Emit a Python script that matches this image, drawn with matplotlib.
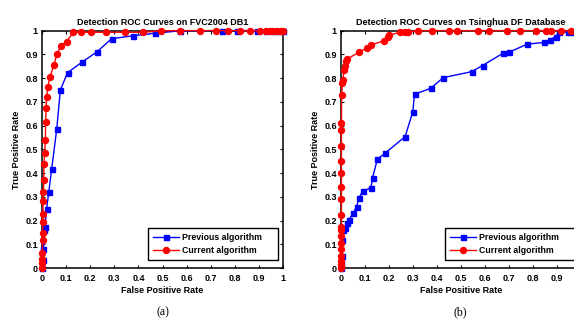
import matplotlib
matplotlib.use("Agg")
import matplotlib.pyplot as plt
import numpy as np

# --- data -------------------------------------------------------------------
# (a) FVC2004 DB1
fvc_prev_fpr = [0, 0.003, 0.006, 0.010, 0.012, 0.019, 0.028, 0.040, 0.061, 0.076, 0.106,
                0.167, 0.227, 0.289, 0.378, 0.468, 0.572, 0.746, 0.810, 0.890, 0.930,
                0.960, 0.980, 1.0]
fvc_prev_tpr = [0, 0.035, 0.08, 0.16, 0.175, 0.25, 0.32, 0.417, 0.585, 0.75, 0.823,
                0.868, 0.91, 0.966, 0.978, 0.989, 0.999, 1.0, 1.0, 1.0, 1.0,
                1.0, 1.0, 1.0]
fvc_cur_fpr = [0, 0.001, 0.001, 0.001, 0.003, 0.003, 0.003, 0.004, 0.004, 0.006, 0.007,
               0.008, 0.011, 0.014, 0.015, 0.017, 0.019, 0.024, 0.033, 0.050, 0.061,
               0.080, 0.102, 0.130, 0.160, 0.205, 0.265, 0.344, 0.420, 0.493, 0.572,
               0.655, 0.720, 0.770, 0.820, 0.862, 0.903, 0.930, 0.945, 0.960, 0.975,
               0.990, 1.0]
fvc_cur_tpr = [0, 0.02, 0.04, 0.065, 0.12, 0.15, 0.196, 0.23, 0.283, 0.32, 0.37,
               0.44, 0.484, 0.54, 0.617, 0.673, 0.72, 0.762, 0.806, 0.855, 0.9,
               0.937, 0.954, 0.993, 0.993, 0.993, 0.993, 0.993, 0.993, 0.999, 1.0,
               1.0, 1.0, 1.0, 1.0, 1.0, 1.0, 1.0, 1.0, 1.0, 1.0,
               1.0, 1.0]

# (b) Tsinghua DF database
thu_prev_fpr = [0, 0.002, 0.003, 0.005, 0.010, 0.017, 0.026, 0.032, 0.051, 0.065, 0.076,
                0.090, 0.125, 0.132, 0.152, 0.184, 0.268, 0.300, 0.307, 0.374, 0.427,
                0.545, 0.591, 0.677, 0.702, 0.777, 0.847, 0.872, 0.896, 0.911, 0.949,
                0.969]
thu_prev_tpr = [0, 0.02, 0.05, 0.12, 0.16, 0.171, 0.192, 0.203, 0.231, 0.259, 0.297,
                0.323, 0.339, 0.381, 0.459, 0.484, 0.554, 0.659, 0.732, 0.757, 0.802,
                0.827, 0.853, 0.905, 0.909, 0.943, 0.950, 0.961, 0.975, 0.993, 0.993,
                0.993]
thu_cur_fpr = [0, 0, 0, 0, 0, 0, 0, 0.001, 0.002, 0.002, 0.002,
               0.002, 0.002, 0.002, 0.002, 0.002, 0.002, 0.003, 0.006, 0.008, 0.013,
               0.017, 0.021, 0.026, 0.075, 0.107, 0.125, 0.180, 0.195, 0.200, 0.246,
               0.267, 0.281, 0.323, 0.382, 0.452, 0.485, 0.570, 0.619, 0.691, 0.747,
               0.812, 0.855, 0.876, 0.920, 0.960, 0.990]
thu_cur_tpr = [0, 0.015, 0.03, 0.05, 0.08, 0.105, 0.135, 0.16, 0.175, 0.225, 0.29,
               0.34, 0.40, 0.45, 0.515, 0.58, 0.61, 0.73, 0.78, 0.79, 0.835,
               0.852, 0.872, 0.88, 0.909, 0.926, 0.94, 0.957, 0.975, 0.98, 0.993,
               0.993, 0.993, 1.0, 1.0, 1.0, 1.0, 1.0, 1.0, 1.0, 1.0,
               1.0, 1.0, 1.0, 1.0, 1.0, 1.0]

tick_values = [0, 0.1, 0.2, 0.3, 0.4, 0.5, 0.6, 0.7, 0.8, 0.9, 1]
tick_labels = ["0", "0.1", "0.2", "0.3", "0.4", "0.5", "0.6", "0.7", "0.8", "0.9", "1"]

panels = [
    ("Detection ROC Curves on FVC2004 DB1", "(a)",
     fvc_prev_fpr, fvc_prev_tpr, fvc_cur_fpr, fvc_cur_tpr),
    ("Detection ROC Curves on Tsinghua DF Database", "(b)",
     thu_prev_fpr, thu_prev_tpr, thu_cur_fpr, thu_cur_tpr),
]

plt.rcParams["font.family"] = ["Liberation Sans", "DejaVu Sans"]
plt.rcParams["font.weight"] = "bold"
FONTSIZE = 6.5

fig = plt.figure(figsize=(5.74, 3.22), dpi=100)
# axes boxes in figure fractions; the right panel runs past the image edge
positions = [[0.0732, 0.167, 0.420, 0.738],
             [0.594, 0.167, 0.4174, 0.738]]
# legend boxes (x0, width) in axes fractions
legend_spans = [(0.44, 0.54), (0.434, 0.56)]

for i, (pos, (title, caption, px, py, cx, cy)) in enumerate(zip(positions, panels)):
    ax = fig.add_axes(pos)
    ax.plot(px, py, color="#0000ff", linewidth=1.0, marker="s", markersize=3.6,
            label="Previous algorithm", clip_on=False, zorder=3)
    ax.plot(cx, cy, color="#ff0000", linewidth=1.0, marker="o", markersize=4.3,
            label="Current algorithm", clip_on=False, zorder=4)

    ax.set_xlim(0, 1)
    ax.set_ylim(0, 1)
    ax.set_xticks(tick_values)
    # the right panel is cropped at the image edge, so its "1" is not shown
    ax.set_xticklabels(tick_labels if i == 0 else tick_labels[:-1] + [""])
    ax.set_yticks(tick_values)
    ax.set_yticklabels(tick_labels)
    ax.tick_params(axis="both", direction="in", length=2.5, width=0.8,
                   labelsize=FONTSIZE, top=True, right=True)
    ax.tick_params(axis="x", pad=4)
    ax.tick_params(axis="y", pad=3)
    for s in ax.spines.values():
        s.set_linewidth(1.1)

    ax.set_title(title, fontsize=FONTSIZE, fontweight="bold", pad=4)
    ax.set_xlabel("False Positive Rate", fontsize=FONTSIZE, fontweight="bold", labelpad=2)
    ax.set_ylabel("True Positive Rate", fontsize=FONTSIZE, fontweight="bold", labelpad=3)

    x0, w = legend_spans[i]
    leg = ax.legend(loc="lower left", bbox_to_anchor=(x0, 0.035, w, 0.15), mode="expand",
                    fontsize=6.3, fancybox=False, framealpha=1, edgecolor="black",
                    handlelength=3.0, borderpad=0.55, labelspacing=0.45,
                    handletextpad=0.3, borderaxespad=0)
    leg.get_frame().set_linewidth(1.0)

    ax.text(0.5, -0.185, caption, transform=ax.transAxes, ha="center", va="center",
            fontsize=8.5, fontweight="normal", family="Liberation Serif")

fig.savefig("out.png", dpi=100)
